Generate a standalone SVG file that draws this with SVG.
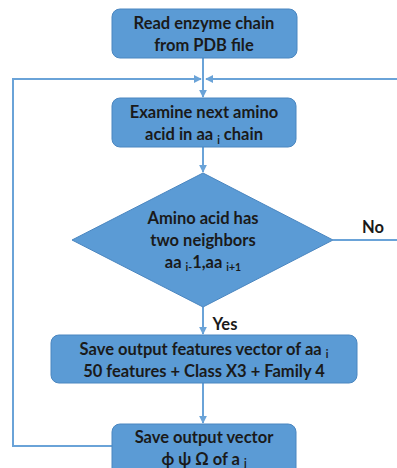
<svg xmlns="http://www.w3.org/2000/svg" width="397" height="468" viewBox="0 0 397 468">
<style>
.box{fill:#5b9bd5;stroke:#4a86c0;stroke-width:1}
.ln{fill:none;stroke:#6aa3d8;stroke-width:2}
.t{font-family:Lato,"Open Sans","Liberation Sans",sans-serif;font-weight:bold;font-size:16.5px;fill:#1a1a1a;text-anchor:middle}
.s{font-size:10.5px}
</style>
<defs>
<marker id="ah" viewBox="0 0 10 10" refX="9" refY="5" markerWidth="4" markerHeight="4" orient="auto" markerUnits="strokeWidth">
<path d="M0,0 L10,5 L0,10 z" fill="#6aa3d8"/>
</marker>
</defs>
<rect width="397" height="468" fill="#ffffff"/>
<g id="connectors">
<line class="ln" x1="203" y1="58" x2="203" y2="97" marker-end="url(#ah)"/>
<polyline class="ln" points="112,446 13,446 13,79 201,79" marker-end="url(#ah)"/>
<polyline class="ln" points="333,240 400,240 400,79 206,79" marker-end="url(#ah)"/>
<line class="ln" x1="203" y1="147" x2="203" y2="172" marker-end="url(#ah)"/>
<line class="ln" x1="203" y1="307" x2="203" y2="334" marker-end="url(#ah)"/>
<line class="ln" x1="203" y1="383" x2="203" y2="423" marker-end="url(#ah)"/>
<text class="t" x="373" y="233">No</text>
<text class="t" x="225" y="330">Yes</text>
</g>
<g id="read">
<rect class="box" x="112" y="9" width="185" height="49" rx="8"/>
<text class="t" x="204" y="29">Read enzyme chain</text>
<text class="t" x="204" y="51">from PDB file</text>
</g>
<g id="examine">
<rect class="box" x="112" y="98" width="184" height="49" rx="8"/>
<text class="t" x="204" y="118">Examine next amino</text>
<text class="t" x="204" y="140">acid in aa <tspan class="s" dy="4">i</tspan><tspan dy="-4"> chain</tspan></text>
</g>
<g id="decision">
<polygon class="box" points="203,173 333,240 203,307 72,240"/>
<text class="t" x="203" y="224">Amino acid has</text>
<text class="t" x="203" y="246">two neighbors</text>
<text class="t" x="203" y="268">aa <tspan class="s" dy="3">i-</tspan><tspan dy="-3">1,aa </tspan><tspan class="s" dy="3">i+1</tspan></text>
</g>
<g id="savefeat">
<rect class="box" x="51" y="335" width="306" height="48" rx="8"/>
<text class="t" x="204" y="355">Save output features vector of aa <tspan class="s" dy="3">i</tspan></text>
<text class="t" x="204" y="377">50 features + Class X3 + Family 4</text>
</g>
<g id="savevec">
<rect class="box" x="112" y="424" width="184" height="60" rx="8"/>
<text class="t" x="204" y="443">Save output vector</text>
<text class="t" x="204" y="465">ϕ ψ Ω of a <tspan class="s" dy="2">j</tspan></text>
</g>
</svg>
